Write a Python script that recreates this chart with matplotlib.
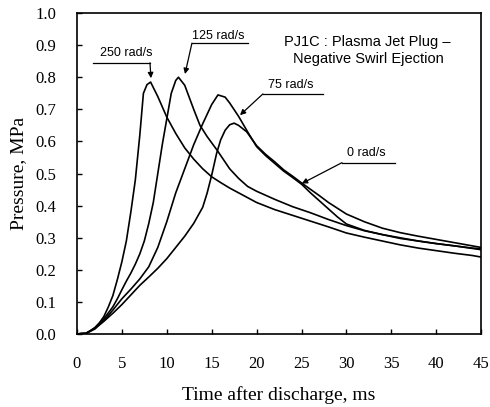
import numpy as np
import matplotlib
matplotlib.use('Agg')
from matplotlib import pyplot as plt

# Pressure traces, PJ1C plasma jet plug, negative swirl ejection
t_0 = [0, 1, 2, 3, 4, 5, 6, 7, 8, 9, 10, 11, 12, 13, 14, 14.5, 15, 15.55, 16, 16.5, 17, 17.5, 18, 18.9,
       20, 21, 22, 23, 24, 25, 26, 27, 28, 29, 30, 32, 34, 36, 38, 40, 42, 44, 45]
p_0 = [0, 0.003, 0.018, 0.04, 0.065, 0.092, 0.122, 0.152, 0.178, 0.205, 0.235, 0.27, 0.305, 0.345, 0.395,
       0.44, 0.495, 0.563, 0.605, 0.635, 0.652, 0.657, 0.65, 0.63,
       0.587, 0.56, 0.537, 0.512, 0.492, 0.471, 0.451, 0.431, 0.41, 0.392, 0.374, 0.35, 0.33, 0.316, 0.305,
       0.295, 0.285, 0.275, 0.27]

t_75 = [0, 1, 2, 3, 4, 5, 6, 7, 8, 9, 10, 11, 12, 13, 14, 15, 15.7, 16.5, 17, 18, 19, 20, 21, 22, 23, 24,
        25, 26, 27, 28, 29, 30, 32, 34, 36, 38, 40, 42, 44, 45]
p_75 = [0, 0.002, 0.016, 0.042, 0.075, 0.11, 0.14, 0.172, 0.21, 0.27, 0.35, 0.44, 0.515, 0.59, 0.655,
        0.715, 0.745, 0.738, 0.72, 0.678, 0.63, 0.584, 0.556, 0.532, 0.508, 0.488,
        0.467, 0.44, 0.415, 0.39, 0.365, 0.343, 0.323, 0.31, 0.3, 0.29, 0.282, 0.275, 0.268, 0.266]

t_125 = [0, 1, 2, 3, 4, 4.5, 5, 5.5, 6, 6.5, 7, 7.5, 8, 8.5, 9, 9.5, 10, 10.5, 11, 11.3, 12, 13, 13.7,
         14.5, 15.6, 17, 18, 19, 20, 22, 24, 26, 28, 30, 32, 34, 36, 38, 40, 42, 44, 45]
p_125 = [0, 0.002, 0.02, 0.048, 0.085, 0.11, 0.138, 0.165, 0.19, 0.218, 0.25, 0.29, 0.345, 0.41, 0.5,
         0.59, 0.67, 0.75, 0.79, 0.8, 0.775, 0.7, 0.65, 0.615, 0.573, 0.515, 0.485, 0.46, 0.445, 0.42,
         0.397, 0.378, 0.357, 0.338, 0.322, 0.31, 0.298, 0.29, 0.282, 0.275, 0.267, 0.263]

t_250 = [0, 0.5, 1, 1.5, 2, 2.5, 3, 3.5, 4, 4.5, 5, 5.5, 6, 6.5, 7, 7.4, 7.8, 8.2, 9, 10, 11, 12, 13, 14,
         15, 16, 17, 18, 19, 20, 22, 24, 26, 28, 30, 32, 34, 36, 38, 40, 42, 44, 45]
p_250 = [0, 0.003, 0.002, 0.01, 0.02, 0.035, 0.055, 0.085, 0.12, 0.17, 0.225, 0.29, 0.38, 0.48, 0.62,
         0.75, 0.777, 0.785, 0.74, 0.676, 0.625, 0.58, 0.545, 0.515, 0.49, 0.472, 0.455, 0.44, 0.425,
         0.41, 0.388, 0.37, 0.352, 0.334, 0.315, 0.302, 0.29, 0.278, 0.268, 0.26, 0.252, 0.245, 0.24]

x_ticks = [0, 5, 10, 15, 20, 25, 30, 35, 40, 45]
y_ticks = [0.0, 0.1, 0.2, 0.3, 0.4, 0.5, 0.6, 0.7, 0.8, 0.9, 1.0]

serif = ['Liberation Serif', 'DejaVu Serif']
sans = ['Liberation Sans', 'DejaVu Sans']

fig = plt.figure(figsize=(4.9, 4.07), dpi=100)
ax = fig.add_axes([0.157, 0.179, 0.825, 0.789])

for t, p in [(t_0, p_0), (t_75, p_75), (t_125, p_125), (t_250, p_250)]:
    ax.plot(t, p, color='black', lw=1.2)

ax.set_xlim(0, 45)
ax.set_ylim(0, 1.0)
ax.set_xticks(x_ticks)
ax.set_yticks(y_ticks)
ax.set_xticklabels([str(v) for v in x_ticks], family=serif, fontsize=12)
ax.set_yticklabels(['%.1f' % v for v in y_ticks], family=serif, fontsize=12)
ax.tick_params(direction='in', length=3.6, width=1)
ax.tick_params(axis='x', pad=16)
ax.tick_params(axis='y', pad=15)
for s in ax.spines.values():
    s.set_linewidth(1.2)

ax.set_xlabel('Time after discharge, ms', family=serif, fontsize=14, labelpad=10)
ax.set_ylabel('Pressure, MPa', family=serif, fontsize=14, labelpad=6)

# labels with underline and leader arrow (leader starts at x_start)
labels = [('250 rad/s', 5.46, 0.875, 1.75, 8.13, 0.845, 8.13, 8.24, 0.797),
          ('125 rad/s', 15.7, 0.928, 12.8, 19.05, 0.906, 12.8, 12.03, 0.81),
          ('75 rad/s', 23.8, 0.776, 20.7, 27.4, 0.748, 20.7, 18.15, 0.682),
          ('0 rad/s', 32.2, 0.564, 29.5, 35.4, 0.534, 29.5, 25.03, 0.469)]
for txt, tx, ty, x0, x1, yu, xs, xa, ya in labels:
    ax.text(tx, ty, txt, family=sans, fontsize=9, ha='center', va='center')
    ax.plot([x0, x1], [yu, yu], color='black', lw=0.9)
    ax.annotate('', xy=(xa, ya), xytext=(xs, yu),
                arrowprops=dict(arrowstyle='-|>', color='black', lw=0.9,
                                mutation_scale=8, shrinkA=0, shrinkB=0))

ax.text(32.3, 0.91, 'PJ1C : Plasma Jet Plug \u2013', family=sans, fontsize=10.5, ha='center', va='center')
ax.text(32.4, 0.857, 'Negative Swirl Ejection', family=sans, fontsize=10.5, ha='center', va='center')

plt.savefig('out.png', dpi=100)
